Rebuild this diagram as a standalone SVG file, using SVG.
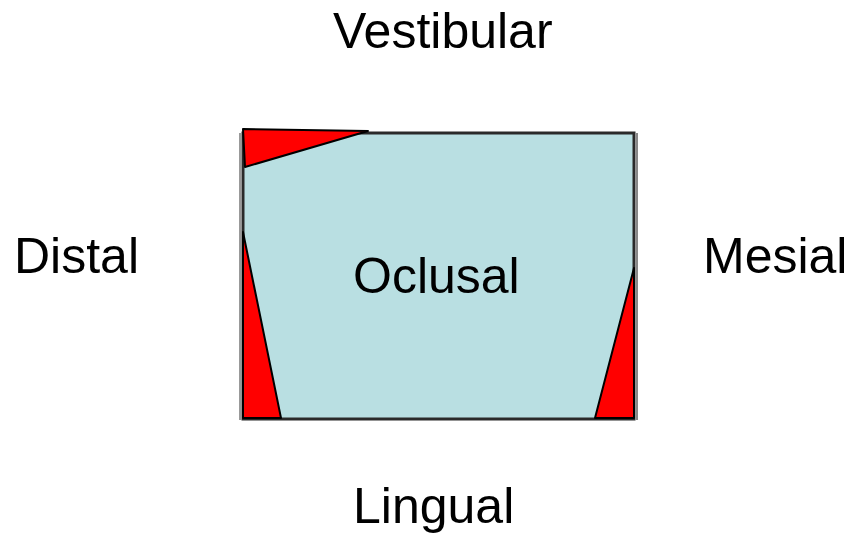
<svg xmlns="http://www.w3.org/2000/svg" width="855" height="538" viewBox="0 0 855 538">
<style>
.lbl{font-family:"Liberation Sans",Arial,sans-serif;font-size:50px;fill:#000}
.red{fill:#ff0000;stroke:#000;stroke-width:2;stroke-linejoin:round}
</style>
<rect width="855" height="538" fill="#fff"/>
<g id="oclusal">
<rect x="243" y="133" width="391" height="286" fill="#b9dfe2" stroke="#2a2a2a" stroke-width="3"/>
<line x1="240" y1="133" x2="240" y2="420" stroke="#999" stroke-width="2"/>
<line x1="637" y1="133" x2="637" y2="420" stroke="#888" stroke-width="2"/>
<polygon class="red" points="243,129 368,131 245,167"/>
<polygon class="red" points="243,232 281,418 243,418"/>
<polygon class="red" points="634,268 634,418 595,418"/>
<text class="lbl" x="353" y="293">Oclusal</text>
</g>
<g id="vestibular"><text class="lbl" x="333" y="48">Vestibular</text></g>
<g id="distal"><text class="lbl" x="14" y="273">Distal</text></g>
<g id="mesial"><text class="lbl" x="703" y="273">Mesial</text></g>
<g id="lingual"><text class="lbl" x="353" y="523">Lingual</text></g>
<g id="connectors"></g>
</svg>
